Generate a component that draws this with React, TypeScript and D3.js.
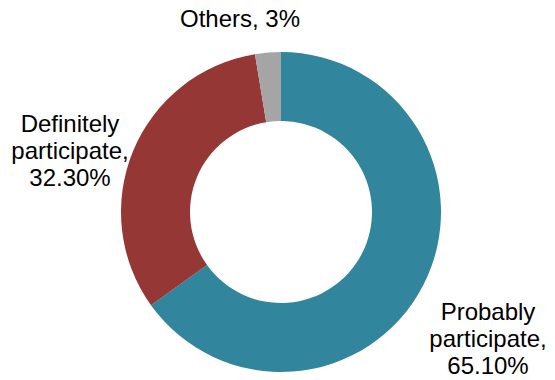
import React from "react";
import * as d3 from "d3";

const categories = ["Probably participate", "Definitely participate", "Others"];
const values = [65.1, 32.3, 2.6];
const colors = ["#31859C", "#953735", "#A5A5A5"];
const labelLines = [
  ["Probably", "participate,", "65.10%"],
  ["Definitely", "participate,", "32.30%"],
  ["Others, 3%"],
];
const labelPos = [
  [488, 320],
  [70, 132],
  [240, 27],
];

export default function App() {
  const width = 555;
  const height = 380;
  const cx = 281;
  const cy = 212;
  const outerR = 160;
  const innerR = 91;
  const pie = d3.pie<number>().sort(null).value((d) => d);
  const arcs = pie(values);
  const arc = d3.arc<d3.PieArcDatum<number>>().innerRadius(innerR).outerRadius(outerR);
  return (
    <svg
      width={width}
      height={height}
      style={{ position: "absolute", left: 0, top: 0, background: "#fff" }}
    >
      <g transform={`translate(${cx},${cy})`}>
        {arcs.map((a, i) => (
          <path key={categories[i]} d={arc(a) || ""} fill={colors[i]} />
        ))}
      </g>
      {labelLines.map((lines, i) => (
        <text
          key={categories[i]}
          x={labelPos[i][0]}
          y={labelPos[i][1]}
          textAnchor="middle"
          fontFamily="Liberation Sans, Arial, sans-serif"
          fontSize={24}
          fill="#000"
        >
          {lines.map((l, j) => (
            <tspan key={j} x={labelPos[i][0]} dy={j === 0 ? 0 : 27}>
              {l}
            </tspan>
          ))}
        </text>
      ))}
    </svg>
  );
}
